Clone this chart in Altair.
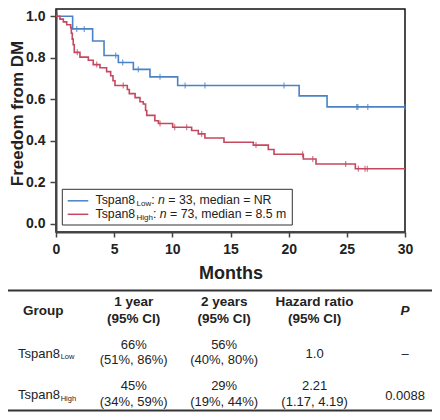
import altair as alt
import pandas as pd

FONT = "Liberation Sans"
TXT = "#222222"
AX = "#444444"
BLUE = "#4A82C3"
RED = "#C4485E"

# ---- Kaplan-Meier steps (months, survival) ----
low_t = [0, 1.43, 3.15, 4.13, 5.36, 6.65, 8.08, 10.46, 20.9, 23.3, 30]
low_s = [1.0, 0.939, 0.881, 0.811, 0.777, 0.744, 0.708, 0.666, 0.616, 0.563, 0.563]
low_censor_t = [1.78, 2.43, 5.13, 5.73, 7.08, 8.94, 11.1, 12.8, 19.6, 25.85, 25.95, 26.8, 30]

high_t = [0, 0.34, 0.63, 0.92, 1.26, 1.32, 1.40, 1.48, 1.57, 2.06, 2.78, 3.2, 3.78,
          4.35, 4.7, 4.9, 5.07, 6.13, 6.3, 6.8, 7.22, 7.5, 7.7, 7.8, 8.5, 8.8,
          10.03, 11.66, 12.23, 12.8, 14.44, 16.96, 18.25, 18.74, 21.26, 22.35, 25.73, 30]
high_s = [1.0, 0.986, 0.973, 0.959, 0.945, 0.918, 0.890, 0.863, 0.826, 0.803, 0.788, 0.767, 0.752,
          0.733, 0.713, 0.689, 0.666, 0.647, 0.627, 0.608, 0.588, 0.577, 0.546, 0.522, 0.496, 0.483,
          0.465, 0.449, 0.433, 0.413, 0.393, 0.379, 0.358, 0.335, 0.312, 0.288, 0.265, 0.265]
high_censor_t = [0.11, 1.83, 3.5, 5.78, 8.94, 10.2, 11.23, 12.52, 17.19, 21.2, 22.07,
                 24.9, 25.99, 26.56, 26.76]

groups = ["Low", "High"]
group_colors = [BLUE, RED]
legend_main = ["Tspan8", "Tspan8"]
legend_n_label = ["n", "n"]
legend_rest = ["= 33, median = NR", "= 73, median = 8.5 m"]

# ---- table ----
table_cols = ["Group", "1 year", "2 years", "Hazard ratio", "P"]
header_text = ["Group", "1 year\n(95% CI)", "2 years\n(95% CI)", "Hazard ratio\n(95% CI)", "P"]
row_keys = ["header", "Low", "High"]
one_year = ["66%\n(51%, 86%)", "45%\n(34%, 59%)"]
two_years = ["56%\n(40%, 80%)", "29%\n(19%, 44%)"]
hazard = ["1.0", "2.21\n(1.17, 4.19)"]
p_value = ["\u2013", "0.0088"]

# Arial / Liberation Sans advance widths (per 1000 em), used to place legend text pieces
W = {"T": 611, "s": 500, "p": 556, "a": 556, "n": 556, "8": 556, "L": 556, "o": 556, "w": 722,
     "H": 722, "i": 222, "g": 556, "h": 556, ":": 278, " ": 278}


def tw(s, size):
    return sum(W.get(c, 556) for c in s) * size / 1000.0


def step_at(ts, ss, t):
    v = ss[0]
    for ti, si in zip(ts, ss):
        if ti <= t:
            v = si
    return v


curve_rows = []
cens_rows = []
for g, ts, ss, cts in [("Low", low_t, low_s, low_censor_t), ("High", high_t, high_s, high_censor_t)]:
    for t, s in zip(ts, ss):
        curve_rows.append({"group": g, "t": t, "S": s})
    for t in cts:
        cens_rows.append({"group": g, "t": t, "S": step_at(ts, ss, t)})
curves = pd.DataFrame(curve_rows)
censors = pd.DataFrame(cens_rows)

PW, PH = 349, 223

xs = alt.Scale(domain=[0, 30], nice=False, zero=False)
ys = alt.Scale(domain=[-0.04, 1.035], nice=False, zero=False)
cs = alt.Scale(domain=groups, range=group_colors)

x_axis = alt.Axis(values=[0, 5, 10, 15, 20, 25, 30], title="Months", tickSize=5, labelPadding=5,
                  labelFontSize=14, labelFontWeight="bold", labelColor=TXT, labelFlush=False,
                  titleFontSize=18, titleFontWeight="bold", titleColor=TXT,
                  titleY=41, titleBaseline="middle",
                  domainColor=AX, domainWidth=2, tickColor=AX, tickWidth=1.5, grid=False)
y_axis = alt.Axis(values=[0, 0.2, 0.4, 0.6, 0.8, 1.0], format=".1f", title="Freedom from DM",
                  tickSize=6, labelPadding=5, labelFontSize=14, labelFontWeight="bold",
                  labelColor=TXT, titleFontSize=17, titleFontWeight="bold", titleColor=TXT,
                  titleX=-33.5, titleY=104, titleBaseline="alphabetic", titleAlign="center",
                  titleAngle=270,
                  domainColor=AX, domainWidth=2, tickColor=AX, tickWidth=1.5, grid=False)

lines = alt.Chart(curves).mark_line(interpolate="step-after", strokeWidth=1.6).encode(
    x=alt.X("t:Q", scale=xs, axis=x_axis),
    y=alt.Y("S:Q", scale=ys, axis=y_axis),
    color=alt.Color("group:N", scale=cs, legend=None),
)
cens = alt.Chart(censors).mark_tick(orient="vertical", size=6, thickness=1.3).encode(
    x=alt.X("t:Q", scale=xs),
    y=alt.Y("S:Q", scale=ys),
    color=alt.Color("group:N", scale=cs, legend=None),
)

# ---- hand-built legend (subscripts / italic n) ----
one = pd.DataFrame({"k": [0]})
LFS = 12.3
SFS = 8
leg_layers = [
    alt.Chart(one).mark_rect(fill="white", stroke="#333333", strokeWidth=1).encode(
        x=alt.value(6.3), x2=alt.value(236.3), y=alt.value(180.3), y2=alt.value(216))
]
x0 = 39.5
for i, yrow in enumerate([191.3, 204.8]):
    sub = groups[i]
    x1 = x0 + tw(legend_main[i], LFS)
    x2 = x1 + tw(sub, SFS)
    x3 = x2 + tw(": ", LFS)
    x4 = x3 + tw("n ", LFS)
    leg_layers += [
        alt.Chart(one).mark_rule(color=group_colors[i], strokeWidth=1.5).encode(
            x=alt.value(11.7), x2=alt.value(32.3), y=alt.value(yrow + 0.5)),
        alt.Chart(one).mark_text(align="left", baseline="middle", fontSize=LFS, font=FONT,
                                 color=TXT).encode(x=alt.value(x0), y=alt.value(yrow),
                                                   text=alt.value(legend_main[i])),
        alt.Chart(one).mark_text(align="left", baseline="middle", fontSize=SFS, font=FONT,
                                 color=TXT).encode(x=alt.value(x1), y=alt.value(yrow + 4),
                                                   text=alt.value(sub)),
        alt.Chart(one).mark_text(align="left", baseline="middle", fontSize=LFS, font=FONT,
                                 color=TXT).encode(x=alt.value(x2), y=alt.value(yrow),
                                                   text=alt.value(":")),
        alt.Chart(one).mark_text(align="left", baseline="middle", fontSize=LFS, font=FONT,
                                 fontStyle="italic", color=TXT).encode(
            x=alt.value(x3), y=alt.value(yrow), text=alt.value(legend_n_label[i])),
        alt.Chart(one).mark_text(align="left", baseline="middle", fontSize=LFS, font=FONT,
                                 color=TXT).encode(x=alt.value(x4), y=alt.value(yrow),
                                                   text=alt.value(legend_rest[i])),
    ]

plot = alt.layer(lines, cens, *leg_layers)

# ---- table (drawn below the plot, own point scales) ----
tx = alt.Scale(type="point", domain=table_cols, range=[-12.7, 349], padding=0)
ty = alt.Scale(type="point", domain=row_keys, range=[301.5, 384.5], padding=0)

cells = []
for c, h in zip(table_cols, header_text):
    cells.append({"col": c, "row": "header", "text": h, "kind": "head"})
for i, g in enumerate(groups):
    for c, vals in zip(table_cols[1:], [one_year, two_years, hazard, p_value]):
        cells.append({"col": c, "row": g, "text": vals[i], "kind": "body"})
cells = pd.DataFrame(cells)
multi = cells["text"].str.contains("\n")
head_multi = cells[(cells.kind == "head") & multi]
head_single = cells[(cells.kind == "head") & ~multi & (cells.col != "P")]
head_p = cells[(cells.kind == "head") & (cells.col == "P")]
body_multi = cells[(cells.kind == "body") & multi]
body_single = cells[(cells.kind == "body") & ~multi]

grp_df = pd.DataFrame({"col": ["Group", "Group"], "row": groups,
                       "main": legend_main, "sub": groups})

enc_x = alt.X("col:N", scale=tx, axis=None, sort=table_cols)
enc_y = alt.Y("row:N", scale=ty, axis=None, sort=row_keys)


def tmark(df, **kw):
    return alt.Chart(df).mark_text(font=FONT, color=TXT, baseline="middle", **kw).encode(
        x=enc_x, y=enc_y, text="text:N")


table_layers = [
    alt.Chart(one).mark_rule(color="#333333", strokeWidth=2).encode(
        x=alt.value(-48), x2=alt.value(376), y=alt.value(281.5)),
    alt.Chart(one).mark_rule(color="#333333", strokeWidth=2).encode(
        x=alt.value(-48), x2=alt.value(376), y=alt.value(401.5)),
    tmark(head_multi, lineBreak="\n", lineHeight=16.5, dy=-8.3, fontSize=13.5, fontWeight="bold"),
    tmark(head_single, fontSize=13.5, fontWeight="bold"),
    tmark(head_p, fontSize=13.5, fontWeight="bold", fontStyle="italic"),
    tmark(body_multi, lineBreak="\n", lineHeight=15.5, dy=-7.5, fontSize=13),
    tmark(body_single, fontSize=13, dy=2),
    alt.Chart(grp_df).mark_text(align="right", baseline="middle", fontSize=13, font=FONT,
                                color=TXT, dx=16.7, dy=1.5).encode(
        x=enc_x, y=enc_y, text="main:N"),
    alt.Chart(grp_df).mark_text(align="left", baseline="middle", fontSize=7.5, font=FONT,
                                color=TXT, dx=17.4, dy=5).encode(
        x=enc_x, y=enc_y, text="sub:N"),
]
table = alt.layer(*table_layers)

chart = alt.layer(plot, table).resolve_scale(x="independent", y="independent").properties(
    width=PW, height=PH,
    padding={"left": 48, "top": 1, "right": 27, "bottom": 180},
    autosize=alt.AutoSizeParams(type="none"),
    view=alt.ViewBackground(stroke="#111111", strokeWidth=1.5),
).configure(font=FONT)

chart.save("out.html", embed_options={"renderer": "svg", "actions": False})
